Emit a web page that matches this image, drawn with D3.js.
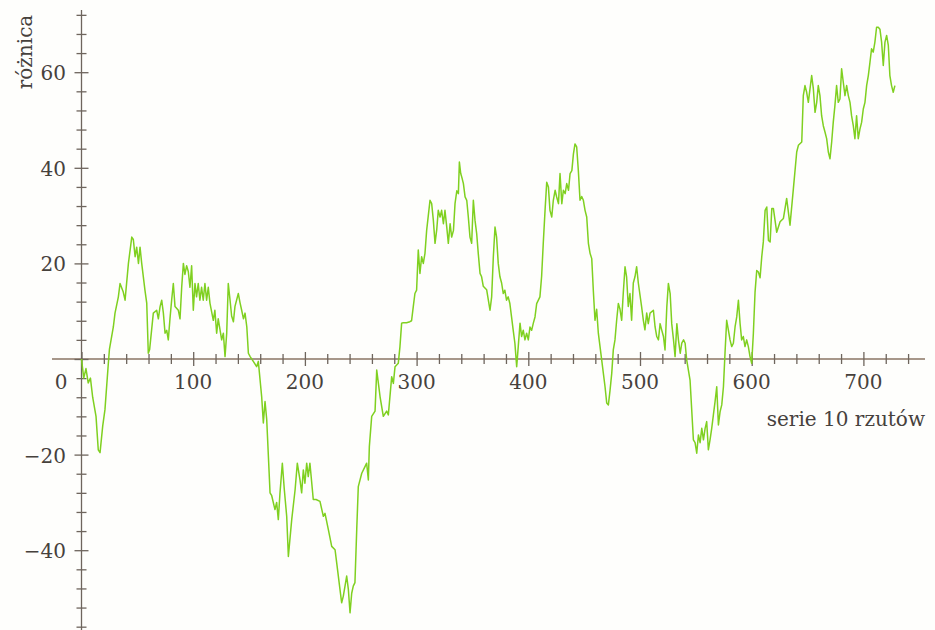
<!DOCTYPE html>
<html>
<head>
<meta charset="utf-8">
<script src="https://cdn.jsdelivr.net/npm/d3@7"></script>
<style>
  body { margin: 0; background: #fefefc; }
  text { font-family: "DejaVu Serif", serif; fill: #46413c; }
</style>
</head>
<body>
<svg width="935" height="630"></svg>
<script>
// numer serii (po 10 rzutów) i skumulowana różnica
const serie = [0,2,4,6,8,10,13,15,16.6,19,21,24,25,28.5,30,33,34.5,37.4,39,42,45,46.4,48,49.4,51,52.4,53.9,56.8,58.4,59.8,61,64.3,67.3,68.8,70.3,71.8,73.3,74.8,76.3,77.7,79.2,80.7,82.2,83.7,86.7,88.2,89.7,91.2,92.6,94.1,95.6,97.1,98.6,100.1,101.6,103,104.5,106,107.5,109,110.5,112,113.5,115,118,119.4,121,122.4,125.5,127,128.5,130,131.4,133,134.4,136,137.4,140.4,142,143.4,145,146.4,148,149.4,151,153.8,156.8,158.3,161.3,162.8,164.3,165.8,168.8,170.3,173.2,174.7,176.2,177.7,179.8,181.6,183.7,185.2,188.2,191.2,193.2,195.6,197.1,198.6,200,201.6,203,204.5,207.5,210,213.5,216.5,218,221,224,227,228.5,231.4,232.9,234.4,237.4,238.9,240.4,241.9,243.3,244.8,246.4,247.8,250.9,253.8,255.3,256.8,257.7,259.8,262.8,264.3,265.8,267.3,270.2,273.2,274.7,277.7,279.2,280.7,283.6,285.1,286.6,288,291,294,295.5,297,298.5,300,301.5,303,304.5,306,307.5,309,312,313.5,315,316.5,318,319.4,321,322.4,324,325.4,327,328.4,330,331.4,333,334.4,336,337.4,338.3,339.5,340.4,341.9,343.4,344.9,346.3,347.8,349.3,350.8,352.3,353.8,355.2,356.8,358.2,359.7,362.7,365.7,367.2,368.7,370.2,371.6,373.1,374.6,376.1,377.6,379,380.5,382,383.5,385,386.5,388,389.6,391,392.6,394,395.5,397,398.5,400,401.5,403,404.5,406,407.5,410.4,411.9,413.4,415,416.5,418,419.4,421,422.4,424,425.4,427,428.4,430,431.4,433,434.4,436,437.4,439,440.4,441.8,443.3,444.8,446.3,447.8,449.3,450.8,452.3,453.8,455.3,456.8,458.2,459.7,461.2,462.7,465.7,468.7,470.2,471.7,473.2,474.7,476.1,477.6,479.1,480.6,482.1,483.6,485,486.6,488,489.5,491,492.5,494,495.5,497,498.5,501.4,503,504.4,506,507.4,509,512,513.5,515,516.5,518,519.4,521,522.4,524,525.4,527,528.4,530,531.4,533,534.4,536,537.4,539,540.4,541.8,544.8,547.8,549.3,550.8,552.3,553.8,555.3,556.8,558.3,559.7,561.2,562.7,564.2,565.7,567.2,568.7,570.2,571.7,573.2,574.7,576.1,577.6,579.1,580.6,582.1,583.6,585.1,586.6,588.1,589.6,591,592.5,594,595.5,597,598.5,600,601.5,603,604.5,606,607.5,609,610.4,612,613.5,615,616.5,618,619.4,622.4,625.4,628.4,631.3,634.3,637.3,640.3,641.8,644.8,646.2,647.7,649.2,650.7,652.2,653.7,655.2,656.7,658.2,659.6,661.1,662.6,664.1,665.6,667.1,668.6,670.1,671.6,673,674.5,676,677.5,679,680.5,682,683.5,685,686.5,688,689.4,690.9,692.4,693.9,695.4,696.9,698.4,699.9,701.4,702.9,704.4,705.9,707.3,708.8,710.3,711.8,713.3,714.8,716.3,717.8,719.3,720.8,722.3,723.7,725.2,726.7,728.2];
const roznica = [0,-4,-2,-5,-4,-8,-12,-19,-19.6,-14,-10.6,-1,2,6.7,9.6,13,15.8,14,12.3,20,25.5,25,21.4,23.4,20,23.4,20,14.4,11.7,1.2,2,9.6,10.2,8.4,10.9,12.3,9.6,5.4,6,4,8.4,12.3,15.8,11,10.2,8.4,15,20,17.7,19.5,18.3,15,19.5,10.2,15.8,13,15.8,12.3,15,12.3,15.8,12.3,15,11.7,8.1,10.2,5.4,8.4,4,5.4,0.5,5.4,15.8,12.3,9,7.8,11,13.7,11.7,10.2,8.4,9.6,6.7,1.2,0.5,-0.5,-1.6,-0.5,-7.9,-13.4,-8.9,-12.6,-28,-28.6,-31.5,-30,-33.6,-28,-21.8,-27.4,-32.9,-41.3,-33.6,-27.4,-21.8,-25.3,-28,-23.2,-26,-21.8,-24.6,-21.8,-29.4,-29.4,-29.8,-32.9,-32.3,-35.7,-39.2,-39.9,-42.7,-48.2,-51,-49.6,-45.4,-48.2,-53.1,-49,-47.5,-46.8,-35.7,-26.7,-23.9,-22.5,-21.8,-25.3,-18.3,-12,-10.9,-2.3,-5.1,-7.9,-12,-10.9,-11.7,-3.7,-5.1,-1.6,-0.9,2.6,7.5,7.6,7.6,7.8,8,10.9,13.7,14.4,22.8,17.9,21.4,20,22.1,26.9,33.2,32.5,29,24.2,27,31.1,29.7,31.1,28.3,31.1,27.6,24.2,28.3,25.5,26.9,32.5,35.2,34.6,41.2,38.8,38.1,36.7,33.9,33.2,29.7,25.5,24.2,33.2,29,26.2,22.1,17.9,17.2,15.2,14.5,10.2,13,21.4,27.6,25.5,20,17.2,15.9,13.7,14.4,12.3,13,11.6,8.8,6,3.3,-1.6,2.6,7.5,4.7,6,4,5.4,4,6.7,6,7.5,8.8,11.6,13,17.2,24.2,31.1,37,36,31.1,29.7,33.2,35.3,33.9,32.5,38.8,32.5,35.3,34.6,36.7,35.3,38.8,39.4,42.9,45,44.4,39.4,33.2,34,33.2,31.1,29.7,24.2,22.1,21,14.4,8.1,10.4,5.4,-0.2,-5.8,-9.2,-9.6,-6.5,-3,1.9,4,8.1,11.6,10.4,8.1,13.7,19.3,17.2,11,13.7,8.1,15.9,17.2,19.3,15.9,11,8.1,6.1,9.6,7.4,9.6,10.2,6.7,4.7,4,7.4,6.1,4.7,1.9,10.9,15.8,13.7,7.4,4,0.5,7.4,4,1.2,3.3,4,3.3,-0.2,-4.4,-16.9,-17.5,-19.7,-15.9,-17.5,-14.5,-16.9,-14.5,-13.1,-19,-16.9,-14.5,-11.7,-8.9,-5.8,-13.8,-11,-9.6,-5.8,1.2,8.1,6.1,4,2.6,3.3,6.7,8.8,12.3,7.4,4,4.7,2.6,4,2.6,0.5,-0.9,5.4,14,18.5,18.2,17,21.4,24.5,31.1,31.8,24.8,24.5,31.5,31.5,26.5,28.7,29.4,33.6,28,35.6,43.3,44.7,45.4,55.1,57.2,55.8,53.7,56.5,59.3,56.5,51.6,53.7,57.2,55.1,50.9,48.8,47.5,46.1,43.3,41.9,45.4,49.5,53,57.2,53.7,54.4,60.7,57.9,55.1,57.2,55.1,53.7,50.9,48.9,46.1,50.9,46.1,48.1,49.5,52.3,53.7,57.2,59.3,62.1,64.9,64.2,66.3,69.4,69.4,69,66.3,61.4,66.3,67.7,65.6,59.3,57.2,55.8,57.2];

const xTicks = d3.range(0, 741, 20);
const yTicks = d3.range(-56, 73, 4);
const xLabels = [100, 200, 300, 400, 500, 600, 700];
const yLabels = [-40, -20, 20, 40, 60];

const svg = d3.select('svg');

const xScale = d3.scaleLinear()
	.domain([0, 100])
	.range([81.5, 193.2]);

const yScale = d3.scaleLinear()
	.domain([0, 60])
	.range([359, 72.2]);

const axisColor = '#6e655d';
const g = svg.append('g');

// osie
g.append('line')
	.attr('x1', 52).attr('x2', 925)
	.attr('y1', yScale(0)).attr('y2', yScale(0))
	.attr('stroke', '#8a7565').attr('stroke-width', 1.3);

g.append('line')
	.attr('x1', xScale(0)).attr('x2', xScale(0))
	.attr('y1', 10).attr('y2', 630)
	.attr('stroke', axisColor).attr('stroke-width', 1.3);

// podziałki na osi x
const xAxis = d3.axisBottom(xScale).tickValues(xTicks).tickFormat('').tickSizeOuter(0);
const xg = g.append('g')
	.attr('transform', `translate(0,${yScale(0)})`)
	.call(xAxis);
xg.select('.domain').remove();
xg.selectAll('.tick line')
	.attr('y1', d => d % 100 === 0 ? -7 : -5)
	.attr('y2', d => d % 100 === 0 ? 7 : 5)
	.attr('stroke', axisColor).attr('stroke-width', 1.3);

// podziałki na osi y
const yAxis = d3.axisLeft(yScale).tickValues(yTicks).tickFormat('').tickSizeOuter(0);
const yg = g.append('g')
	.attr('transform', `translate(${xScale(0)},0)`)
	.call(yAxis);
yg.select('.domain').remove();
yg.selectAll('.tick line')
	.attr('x1', d => d % 20 === 0 ? -7 : -5)
	.attr('x2', d => d % 20 === 0 ? 7 : 5)
	.attr('stroke', axisColor).attr('stroke-width', 1.3);

// opisy
g.selectAll('.xlab').data(xLabels)
	.enter().append('text')
		.attr('class', 'xlab')
		.attr('x', d => xScale(d))
		.attr('y', 389)
		.attr('text-anchor', 'middle')
		.attr('font-size', 20)
		.text(d => d);

g.append('text')
	.attr('x', xScale(0) - 14)
	.attr('y', 389)
	.attr('text-anchor', 'end')
	.attr('font-size', 20)
	.text('0');

g.selectAll('.ylab').data(yLabels)
	.enter().append('text')
		.attr('class', 'ylab')
		.attr('x', 66)
		.attr('y', d => yScale(d) + 8)
		.attr('text-anchor', 'end')
		.attr('font-size', 20)
		.text(d => d < 0 ? '\u2212' + (-d) : d);

g.append('text')
	.attr('x', 925)
	.attr('y', 426)
	.attr('text-anchor', 'end')
	.attr('font-size', 20)
	.text('serie 10 rzutów');

g.append('text')
	.attr('transform', 'translate(32,52) rotate(-90)')
	.attr('text-anchor', 'middle')
	.attr('font-size', 20)
	.text('różnica');

// linia
const line = d3.line()
	.x((d, i) => xScale(serie[i]))
	.y(d => yScale(d));

g.append('path')
	.datum(roznica)
	.attr('fill', 'none')
	.attr('stroke', '#7fd020')
	.attr('stroke-width', 1.5)
	.attr('stroke-linejoin', 'round')
	.attr('d', line);
</script>
</body>
</html>
